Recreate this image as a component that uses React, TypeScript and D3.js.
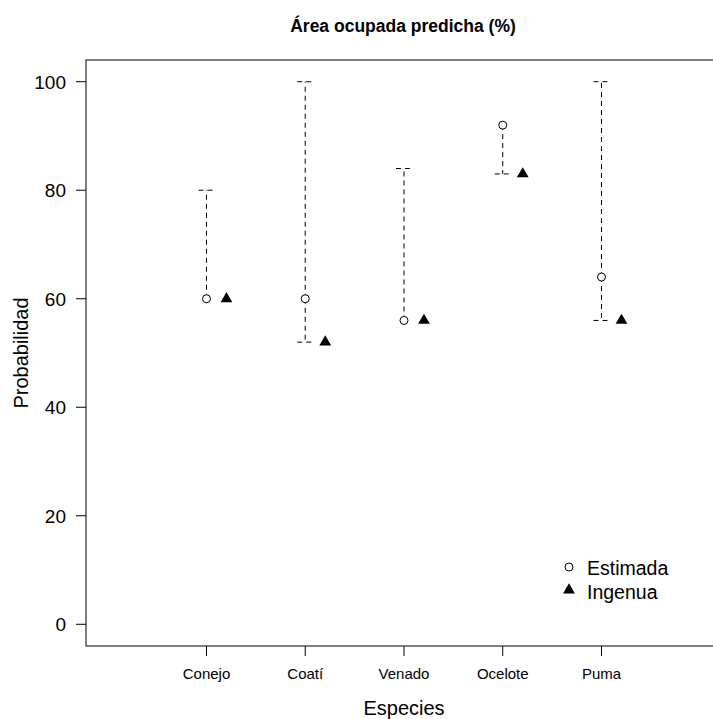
import React from "react";
import * as d3 from "d3";

const species = ["Conejo", "Coatí", "Venado", "Ocelote", "Puma"];
const estimada = [60, 60, 56, 92, 64];
const ingenua = [60, 52, 56, 83, 56];
const lower = [60, 52, 56, 83, 56];
const upper = [80, 100, 84, 92, 100];
const yTicks = [0, 20, 40, 60, 80, 100];

const W = 713, H = 719;
const L = 86, R = 720, T = 60, B = 646;

export default function App() {
  const x = d3.scaleLinear().domain([-0.22, 6.2]).range([L, R]);
  const y = d3.scaleLinear().domain([-4, 104]).range([B, T]);
  const font = "'Liberation Sans', Arial, sans-serif";
  const capW = 8;
  const dash = "5,4";
  const off = 20;
  const tri = d3.symbol().type(d3.symbolTriangle).size(60)();
  return (
    <svg width={W} height={H} style={{ position: "absolute", left: 0, top: 0 }} fontFamily={font}>
      <rect width={W} height={H} fill="#fff" />
      <text x={403} y={32} textAnchor="middle" fontSize={17.5} fontWeight="bold">Área ocupada predicha (%)</text>
      <rect x={L} y={T} width={R - L} height={B - T} fill="none" stroke="#000" strokeWidth={1} />
      {yTicks.map((t) => (
        <g key={t}>
          <line x1={L - 10} x2={L} y1={y(t)} y2={y(t)} stroke="#000" />
          <text x={66} y={y(t)} dy="0.36em" textAnchor="end" fontSize={19}>{t}</text>
        </g>
      ))}
      <text transform={`translate(28,${(T + B) / 2}) rotate(-90)`} textAnchor="middle" fontSize={20}>Probabilidad</text>
      {species.map((s, i) => (
        <g key={s}>
          <line x1={x(i + 1)} x2={x(i + 1)} y1={B} y2={B + 10} stroke="#000" />
          <text x={x(i + 1)} y={679} textAnchor="middle" fontSize={15}>{s}</text>
        </g>
      ))}
      <text x={404} y={715} textAnchor="middle" fontSize={20}>Especies</text>
      {species.map((s, i) => {
        const cx = x(i + 1);
        return (
          <g key={"m" + s}>
            {upper[i] !== estimada[i] && (
              <g>
                <line x1={cx} x2={cx} y1={y(estimada[i])} y2={y(upper[i])} stroke="#000" strokeDasharray={dash} />
                <line x1={cx - capW} x2={cx + capW} y1={y(upper[i])} y2={y(upper[i])} stroke="#000" strokeDasharray={dash} />
              </g>
            )}
            {lower[i] !== estimada[i] && (
              <g>
                <line x1={cx} x2={cx} y1={y(estimada[i])} y2={y(lower[i])} stroke="#000" strokeDasharray={dash} />
                <line x1={cx - capW} x2={cx + capW} y1={y(lower[i])} y2={y(lower[i])} stroke="#000" strokeDasharray={dash} />
              </g>
            )}
            <circle cx={cx} cy={y(estimada[i])} r={4} fill="#fff" stroke="#000" />
            <path d={tri as string} transform={`translate(${cx + off},${y(ingenua[i])})`} fill="#000" />
          </g>
        );
      })}
      <circle cx={569} cy={567} r={4} fill="#fff" stroke="#000" />
      <text x={587} y={568} dy="0.36em" fontSize={19.5}>Estimada</text>
      <path d={tri as string} transform={`translate(569,590)`} fill="#000" />
      <text x={587} y={592} dy="0.36em" fontSize={19.5}>Ingenua</text>
    </svg>
  );
}
